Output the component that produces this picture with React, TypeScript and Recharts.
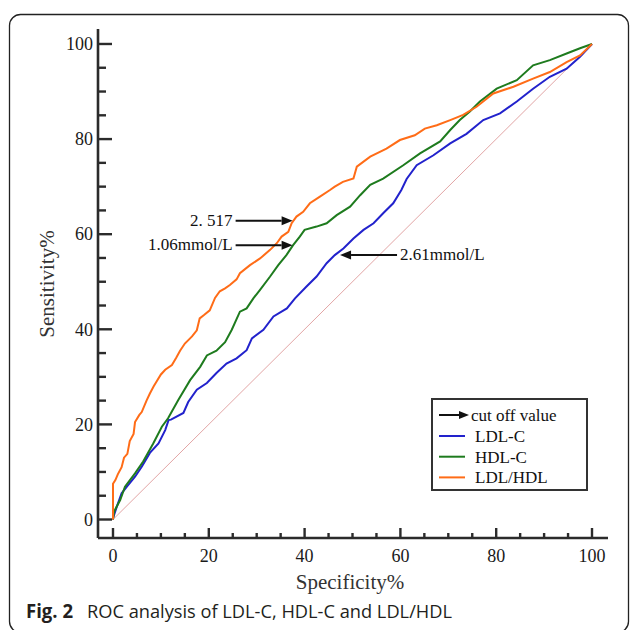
import React from 'react';
import { LineChart, Line, XAxis, YAxis, ReferenceDot } from 'recharts';

// ROC curves: [100 - specificity-axis value, sensitivity %]
const ldlC: [number, number][] = [
  [0, 0], [0, 0.3], [0.8, 2.7], [1.8, 5.5], [2.9, 6.9], [4.6, 9], [6, 11.1], [7.7, 14], [9.5, 16],
  [10.9, 18.8], [11.6, 20.9], [12.1, 21], [14.7, 22.4], [15.7, 24.7], [17.5, 27.3], [19.6, 28.7],
  [21.6, 30.8], [23.7, 32.8], [25.8, 33.9], [27.9, 35.6], [29, 38.1], [31.4, 39.9], [33.5, 42.7],
  [36.3, 44.4], [38, 46.5], [40.4, 49], [42.5, 51.1], [44.6, 53.9], [46.3, 55.6], [48.1, 57],
  [50.2, 59.1], [52.3, 60.9], [54.4, 62.3], [56.4, 64.4], [58.5, 66.5], [60.2, 69.3], [61.3, 71.6],
  [63.4, 74.5], [66.9, 76.6], [70.4, 79.1], [73.8, 81.1], [77.3, 84], [80.8, 85.4], [84.3, 87.9],
  [87.7, 90.6], [91.2, 93.1], [94.7, 94.8], [97.5, 97.3], [100, 100],
];
const hdlC: [number, number][] = [
  [0, 0], [0.2, 1.5], [0.4, 2], [1.5, 4.1], [2.5, 6.9], [4.6, 9.7], [6.3, 12.2], [8.4, 16],
  [10.2, 19.5], [11.5, 21.3], [13.6, 25.1], [16.1, 29.3], [18.2, 32.1], [19.6, 34.5], [21.6, 35.5],
  [23.4, 37.3], [24.8, 39.9], [26.5, 43.7], [27.9, 44.4], [29.3, 46.5], [30.7, 48.3], [32.8, 51.1],
  [34.5, 53.5], [36.2, 55.6], [37.6, 57.7], [39, 59.5], [40, 60.9], [42.5, 61.6], [44.6, 62.3],
  [46.7, 64], [49.5, 65.8], [51.6, 68.2], [53.7, 70.4], [56.4, 71.7], [60.6, 74.5], [64.1, 77],
  [68.3, 79.5], [70.4, 81.9], [72.4, 84], [74.5, 85.8], [76.6, 87.9], [80.1, 90.6], [84.3, 92.4],
  [87.7, 95.5], [91.2, 96.6], [94.7, 98], [97.5, 99.1], [100, 100],
];
const ldlHdl: [number, number][] = [
  [0, 0], [0, 7.5], [0.5, 8.3], [1, 9.5], [1.8, 11], [2.3, 13], [3, 13.8], [3.5, 16.5], [4.3, 18],
  [4.6, 20.5], [5.5, 22], [6, 22.6], [7, 25], [7.7, 26.5], [8.5, 28], [9.1, 29], [10, 30.5],
  [10.9, 31.5], [12.3, 32.5], [13.2, 34], [14, 35.5], [15, 37], [16.5, 38.5], [17.5, 39.8],
  [18.1, 42.3], [19, 43], [20.2, 44], [21.3, 46.6], [22.3, 48], [23.4, 48.6], [24.4, 49.3],
  [25.8, 50.5], [26.5, 51.8], [28.6, 53.5], [30.7, 54.9], [32.8, 56.7], [34.2, 58.1], [35.2, 59.5],
  [36.6, 60.5], [37.3, 62.3], [38.3, 63.7], [39.7, 64.7], [41.1, 66.5], [43.2, 67.9], [45.3, 69.3],
  [46.3, 70], [48, 71], [50.2, 71.7], [50.9, 74.2], [53.7, 76.3], [57.1, 78], [59.9, 79.8],
  [63, 80.8], [65.1, 82.2], [67.6, 82.9], [70.4, 84], [73.1, 85.1], [75.9, 86.8], [79.4, 89.6],
  [83.6, 91], [87.7, 92.7], [91.2, 94.1], [94.7, 96.2], [97.5, 97.6], [100, 100],
];
const diagonal: [number, number][] = [[0, 0], [100, 100]];

const axisTicks = [0, 5, 10, 15, 20, 25, 30, 35, 40, 45, 50, 55, 60, 65, 70, 75, 80, 85, 90, 95, 100];
const tickLabels = [0, 20, 40, 60, 80, 100];

const seriesNames = ['LDL-C', 'HDL-C', 'LDL/HDL'];
const seriesColors = ['#2222cc', '#1e7b1e', '#ff6c17'];

const cutoffs = [
  { label: '2. 517', x: 37.5, y: 62.8, side: 'left' },
  { label: '1.06mmol/L', x: 37.5, y: 57.7, side: 'left' },
  { label: '2.61mmol/L', x: 47.4, y: 55.6, side: 'right' },
];

const toPoints = (arr: [number, number][]) => arr.map(([x, y]) => ({ x, y }));

const SERIF = '"Liberation Serif", "Times New Roman", serif';
const AXIS = '#2b2b2b';

const XTick = (props: any) => {
  const { x, y, payload } = props;
  const v = payload.value;
  const major = tickLabels.includes(v);
  return (
    <g>
      <line x1={x} x2={x} y1={y} y2={y - (major ? 10 : 5)} stroke={AXIS} strokeWidth={2.4} />
      {major && (
        <text x={x} y={y + 24} textAnchor="middle" fontFamily={SERIF} fontSize={18} fill="#1a1a1a">
          {v}
        </text>
      )}
    </g>
  );
};

const YTick = (props: any) => {
  const { x, y, payload } = props;
  const v = payload.value;
  const major = tickLabels.includes(v);
  return (
    <g>
      <line x1={x} x2={x + (major ? 14 : 8)} y1={y} y2={y} stroke={AXIS} strokeWidth={2.4} />
      {major && (
        <text x={x - 5} y={y} dy="0.35em" textAnchor="end" fontFamily={SERIF} fontSize={18} fill="#1a1a1a">
          {v}
        </text>
      )}
    </g>
  );
};

const arrowShape = (label: string, side: string) => (props: any) => {
  const { cx, cy } = props;
  if (cx == null || cy == null) return <g />;
  const dir = side === 'left' ? -1 : 1;
  const start = cx + dir * 57;
  const headLen = 11;
  return (
    <g>
      <line x1={start} x2={cx + dir * headLen} y1={cy} y2={cy} stroke="#111" strokeWidth={2} />
      <polygon
        points={`${cx},${cy} ${cx + dir * headLen},${cy - 4.5} ${cx + dir * headLen},${cy + 4.5}`}
        fill="#111"
      />
      <text
        x={cx + dir * 60}
        y={cy - 1}
        dy="0.35em"
        textAnchor={side === 'left' ? 'end' : 'start'}
        fontFamily={SERIF}
        fontSize={17}
        fill="#111"
      >
        {label}
      </text>
    </g>
  );
};

export default function App() {
  const series = [ldlC, hdlC, ldlHdl];
  return (
    <div style={{ position: 'absolute', left: 0, top: 0, width: 630, height: 630, overflow: 'hidden', background: '#fff' }}>
      <div style={{ position: 'absolute', left: 0, top: 0 }}>
        <LineChart width={630} height={630} margin={{ top: 29, right: 22, left: 0, bottom: 32 }}>
          <XAxis
            dataKey="x"
            type="number"
            domain={[-3.13, 103.34]}
            allowDataOverflow
            ticks={axisTicks}
            interval={0}
            tickSize={0}
            tickMargin={0}
            tickLine={false}
            tick={XTick}
            height={60}
            axisLine={{ stroke: AXIS, strokeWidth: 2.6 }}
          />
          <YAxis
            dataKey="y"
            type="number"
            domain={[-3.89, 103.15]}
            allowDataOverflow
            ticks={axisTicks}
            interval={0}
            tickSize={0}
            tickMargin={0}
            tickLine={false}
            tick={YTick}
            width={98}
            axisLine={{ stroke: AXIS, strokeWidth: 2.6 }}
          />
          <Line
            data={toPoints(diagonal)}
            dataKey="y"
            type="linear"
            stroke="#e2a5a5"
            strokeWidth={1}
            dot={false}
            activeDot={false}
            isAnimationActive={false}
          />
          {series.map((s, i) => (
            <Line
              key={seriesNames[i]}
              name={seriesNames[i]}
              data={toPoints(s)}
              dataKey="y"
              type="linear"
              stroke={seriesColors[i]}
              strokeWidth={2}
              dot={false}
              activeDot={false}
              isAnimationActive={false}
            />
          ))}
          {cutoffs.map((c) => (
            <ReferenceDot
              key={c.label}
              x={c.x}
              y={c.y}
              r={0}
              ifOverflow="visible"
              shape={arrowShape(c.label, c.side)}
            />
          ))}
        </LineChart>
      </div>
      <svg
        width={630}
        height={630}
        style={{ position: 'absolute', left: 0, top: 0, pointerEvents: 'none' }}
      >
        <rect x={9.5} y={14.5} width={619} height={618} rx={11} fill="none" stroke="#222" strokeWidth={1.3} />
        <text x={350} y={589} textAnchor="middle" fontFamily={SERIF} fontSize={21} fill="#333">
          Specificity%
        </text>
        <text
          x={47}
          y={284}
          transform="rotate(-90 47 284)"
          textAnchor="middle"
          dy="0.35em"
          fontFamily={SERIF}
          fontSize={21}
          fill="#333"
        >
          Sensitivity%
        </text>
        <g>
          <rect x={432} y={399} width={155} height={91} fill="#fff" stroke="#333" strokeWidth={2} />
          <line x1={439} x2={460} y1={415} y2={415} stroke="#111" strokeWidth={2} />
          <polygon points="469,415 459,411 459,419" fill="#111" />
          <text x={471} y={415} dy="0.35em" fontFamily={SERIF} fontSize={17} fill="#111">
            cut off value
          </text>
          {seriesNames.map((n, i) => (
            <g key={n}>
              <line x1={439} x2={465} y1={436 + i * 20.7} y2={436 + i * 20.7} stroke={seriesColors[i]} strokeWidth={2} />
              <text x={475} y={436 + i * 20.7} dy="0.35em" fontFamily={SERIF} fontSize={17} fill="#111">
                {n}
              </text>
            </g>
          ))}
        </g>
        <text x={26} y={618} fontFamily='"Open Sans", "Noto Sans", sans-serif' fontWeight={700} fontSize={19} fill="#231f20" textLength={47} lengthAdjust="spacingAndGlyphs">
          Fig. 2
        </text>
        <text x={87} y={618} fontFamily='"Open Sans", "Noto Sans", sans-serif' fontSize={19} fill="#231f20" textLength={365} lengthAdjust="spacingAndGlyphs">
          ROC analysis of LDL-C, HDL-C and LDL/HDL
        </text>
      </svg>
    </div>
  );
}
